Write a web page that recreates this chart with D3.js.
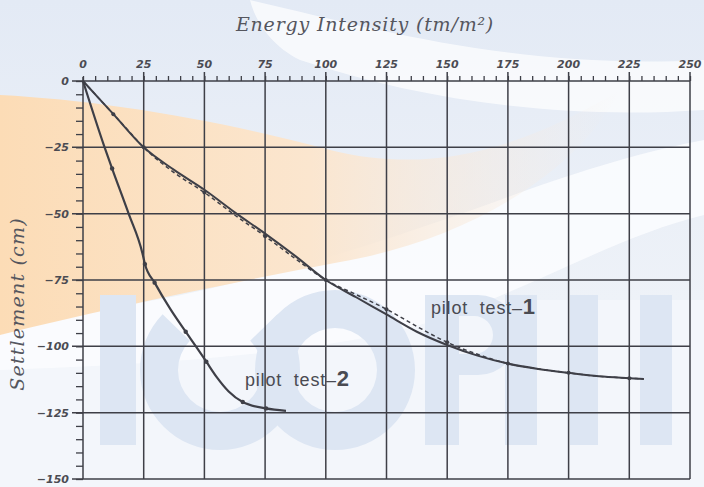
<!DOCTYPE html>
<html><head><meta charset="utf-8">
<script src="https://cdn.jsdelivr.net/npm/d3@7"></script>
<style>html,body{margin:0;padding:0;background:#fff}svg{display:block}</style>
</head><body>
<svg id="chart" width="704" height="487"></svg>
<script>
// ---- data ----
const xTicks = [0, 25, 50, 75, 100, 125, 150, 175, 200, 225, 250];
const yTicks = [0, -25, -50, -75, -100, -125, -150];
const test1FitX = [0, 12.5, 25, 37.5, 50, 62.5, 75, 87.5, 100, 112.5, 125, 137.5, 150, 162.5, 175, 187.5, 200, 212.5, 225, 231];
const test1FitY = [0, -12.5, -25, -33.5, -41, -49.5, -57.5, -66, -75, -81.5, -88, -94.5, -99.5, -103.5, -106.5, -108.5, -110, -111.3, -112, -112.3];
const test1ObsX = [0, 6, 12.5, 18, 25, 37.5, 50, 62.5, 75, 87.5, 100, 112.5, 125, 137.5, 150, 162.5, 175, 187.5, 200, 212.5, 225, 231];
const test1ObsY = [0, -6, -12.5, -18, -25, -34.5, -42, -50.5, -58.5, -67, -75, -80.5, -86, -92.5, -98.5, -103, -106.5, -108.5, -110, -111.3, -112, -112.3];
const test2X = [0, 8.9, 12, 18.8, 24.5, 25.5, 29.5, 36, 42.3, 46.5, 50.8, 55, 60, 65.8, 75.4, 83.6];
const test2Y = [0, -25, -33, -50, -65, -69, -76, -86, -94.5, -100, -105.8, -111.5, -117, -121, -123.4, -124.3];
const test2Markers = [2, 5, 6, 8, 10, 13, 14];

const svg = d3.select("#chart");
const W = 704, H = 487;
const ink = "#3e3f47";

// ---- watermark-like background ----
const bg = svg.append("g");
bg.append("rect").attr("width", W).attr("height", H).attr("fill", "#f3f6fb");
const defs = svg.append("defs");
const gBlue = defs.append("linearGradient").attr("id", "blue").attr("x1", 0).attr("y1", 0).attr("x2", 0).attr("y2", 1);
gBlue.append("stop").attr("offset", "0").attr("stop-color", "#e3eaf5");
gBlue.append("stop").attr("offset", "1").attr("stop-color", "#eef2f8");
bg.append("rect").attr("width", W).attr("height", 300).attr("fill", "url(#blue)");
const g1 = defs.append("linearGradient").attr("id", "peach").attr("x1", 0).attr("y1", 0).attr("x2", 1).attr("y2", 0);
g1.append("stop").attr("offset", "0").attr("stop-color", "#fcdcb6");
g1.append("stop").attr("offset", "0.5").attr("stop-color", "#fbe6cf");
g1.append("stop").attr("offset", "1").attr("stop-color", "#f6ecE4").attr("stop-opacity", 0);
bg.append("path").attr("fill", "#fbfcfe").attr("opacity", 0.9)
  .attr("d", "M0,320 C180,310 360,250 500,200 C580,170 650,150 704,140 L704,215 C600,240 500,310 380,335 C250,360 120,365 0,370 Z");
bg.append("path").attr("fill", "#ffffff").attr("opacity", 0.7)
  .attr("d", "M250,0 C380,30 520,70 704,60 L704,110 C560,120 420,100 300,60 C270,45 255,20 250,0 Z");
bg.append("path").attr("fill", "url(#peach)")
  .attr("d", "M0,95 C100,100 220,120 330,150 C430,175 520,150 620,90 C580,170 470,240 340,262 C220,285 100,310 0,335 Z");
const wm = bg.append("g").attr("fill", "#dde6f3");
wm.append("rect").attr("x", 100).attr("y", 295).attr("width", 36).attr("height", 150);
wm.append("path")
  .attr("d", d3.arc().innerRadius(42).outerRadius(80).startAngle(0.8).endAngle(2 * Math.PI - 0.8)())
  .attr("transform", "translate(220,370)");
wm.append("path")
  .attr("d", d3.arc().innerRadius(42).outerRadius(80).startAngle(0).endAngle(2 * Math.PI)())
  .attr("transform", "translate(335,370)");
wm.append("rect").attr("x", 425).attr("y", 295).attr("width", 34).attr("height", 150);
wm.append("path")
  .attr("d", "M459,295 L478,295 A40,40 0 0 1 478,375 L459,375 L459,354 L474,354 A19,19 0 0 0 474,316 L459,316 Z");
wm.append("rect").attr("x", 505).attr("y", 295).attr("width", 32).attr("height", 150);
wm.append("rect").attr("x", 570).attr("y", 295).attr("width", 28).attr("height", 150);
wm.append("rect").attr("x", 640).attr("y", 295).attr("width", 32).attr("height", 150);

// ---- scales ----
const x = d3.scaleLinear().domain([0, 250]).range([83, 690]);
const y = d3.scaleLinear().domain([0, -150]).range([81, 479]);

// ---- grid ----
const grid = svg.append("g").attr("stroke", ink).attr("stroke-width", 1.5).attr("fill", "none");
grid.selectAll("line.v").data(xTicks).join("line")
  .attr("x1", d => x(d)).attr("x2", d => x(d))
  .attr("y1", d => d === 0 ? y(0) - 4 : y(0) - 9).attr("y2", y(-150));
grid.selectAll("line.h").data(yTicks).join("line")
  .attr("y1", d => y(d)).attr("y2", d => y(d))
  .attr("x1", d => x(0) - 11).attr("x2", x(250));

// ---- axes (top and left) with minor ticks ----
const xAxis = d3.axisTop(x).tickValues(d3.range(0, 251, 5)).tickSize(5).tickFormat("");
const gx = svg.append("g").attr("transform", `translate(0,${y(0)})`).call(xAxis);
gx.select(".domain").remove();
gx.selectAll("line").attr("stroke", ink).attr("stroke-width", 1.3);

const yAxis = d3.axisLeft(y).tickValues(d3.range(0, -151, -5)).tickSize(7).tickFormat("");
const gy = svg.append("g").attr("transform", `translate(${x(0)},0)`).call(yAxis);
gy.select(".domain").remove();
gy.selectAll("line").attr("stroke", ink).attr("stroke-width", 1.3);

// tick labels
const labFill = "#4b4b52";
svg.append("g").selectAll("text").data(xTicks).join("text")
  .attr("x", d => x(d)).attr("y", 68).attr("text-anchor", "middle")
  .attr("font-family", "DejaVu Sans").attr("font-weight", "bold").attr("font-style", "italic")
  .attr("font-size", "11px").attr("fill", labFill)
  .text(d => d);
svg.append("g").selectAll("text").data(yTicks).join("text")
  .attr("x", 69).attr("y", d => y(d) + 4).attr("text-anchor", "end")
  .attr("font-family", "DejaVu Sans").attr("font-weight", "bold").attr("font-style", "italic")
  .attr("font-size", "11px").attr("fill", labFill)
  .text(d => d === 0 ? "0" : "\u2212" + Math.abs(d));

// axis titles
svg.append("text").attr("x", 365).attr("y", 31).attr("text-anchor", "middle")
  .attr("font-family", "DejaVu Serif").attr("font-style", "italic").attr("font-size", "19px")
  .attr("letter-spacing", "0.8px").attr("fill", "#55565e")
  .text("Energy Intensity (tm/m²)");
svg.append("text").attr("transform", "translate(24,304) rotate(-90)").attr("text-anchor", "middle")
  .attr("font-family", "DejaVu Serif").attr("font-style", "italic").attr("font-size", "19px")
  .attr("letter-spacing", "1.2px").attr("fill", "#55565e")
  .text("Settlement (cm)");

// ---- curves ----
const line = d3.line().x(d => x(d[0])).y(d => y(d[1])).curve(d3.curveMonotoneX);
const fit1 = test1FitX.map((v, i) => [v, test1FitY[i]]);
const obs1 = test1ObsX.map((v, i) => [v, test1ObsY[i]]);
const t2 = test2X.map((v, i) => [v, test2Y[i]]);

svg.append("path").datum(obs1).attr("d", line).attr("fill", "none")
  .attr("stroke", ink).attr("stroke-width", 1.5).attr("stroke-dasharray", "4,3");
svg.append("path").datum(fit1).attr("d", line).attr("fill", "none")
  .attr("stroke", ink).attr("stroke-width", 2);
svg.append("path").datum(t2).attr("d", line)
  .attr("fill", "none").attr("stroke", ink).attr("stroke-width", 2.2);

svg.append("g").selectAll("circle").data(obs1.filter((d, i) => i > 0 && i % 2 === 0)).join("circle")
  .attr("cx", d => x(d[0])).attr("cy", d => y(d[1])).attr("r", 2).attr("fill", ink);
svg.append("g").selectAll("circle").data(test2Markers.map(i => t2[i])).join("circle")
  .attr("cx", d => x(d[0])).attr("cy", d => y(d[1])).attr("r", 2.2).attr("fill", ink);

// ---- series labels ----
function seriesLabel(px, py, num) {
  const t = svg.append("text").attr("x", px).attr("y", py)
    .attr("font-family", "Liberation Sans").attr("font-size", "18px").attr("fill", "#4a4b52");
  t.append("tspan").attr("letter-spacing", "0.8px").attr("word-spacing", "6px").text("pilot test\u2013");
  t.append("tspan").attr("font-size", "22px").attr("font-weight", "bold").text(num);
}
seriesLabel(431, 314, "1");
seriesLabel(245, 386, "2");
</script>
</body></html>
